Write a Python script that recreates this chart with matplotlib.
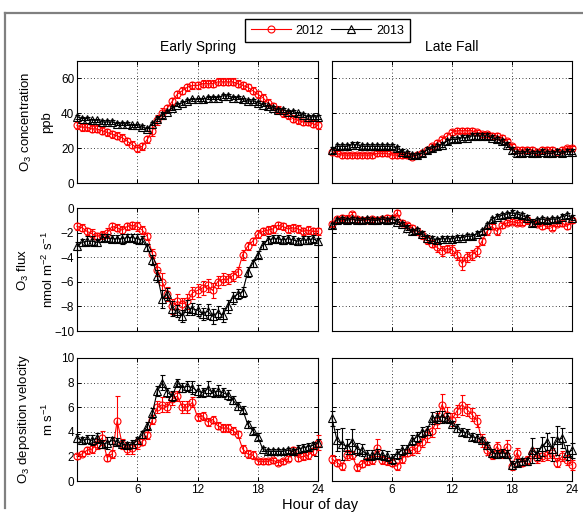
"""Diel cycles of O3 concentration, flux and deposition velocity,
Early Spring vs Late Fall, 2012 vs 2013 (half-hourly means +/- error)."""

import matplotlib
matplotlib.use("Agg")
import matplotlib.pyplot as plt
import numpy as np
from matplotlib.lines import Line2D

plt.rcParams["font.family"] = ["Liberation Sans", "DejaVu Sans"]
plt.rcParams["mathtext.fontset"] = "custom"
plt.rcParams["mathtext.rm"] = "Liberation Sans"
plt.rcParams["mathtext.it"] = "Liberation Sans"

# -- data ---------------------------------------------------------------------
HOURS = np.arange(0, 24.5, 0.5)  # half-hour bins, 0 .. 24

o3_es_2012 = [33, 32, 32, 31, 31, 30, 29, 28, 27, 26, 24, 22, 20, 21, 25, 30, 36, 40, 43, 47,
              51, 53, 55, 56, 56, 57, 57, 57, 58, 58, 58, 58, 57, 56, 55, 53, 51, 49, 46, 44,
              42, 40, 39, 37, 36, 35, 35, 34, 33]
o3_es_2013 = [38, 37, 37, 36, 36, 35, 35, 35, 34, 34, 34, 33, 33, 32, 31, 34, 37, 39, 41, 43,
              45, 46, 47, 48, 48, 48, 49, 49, 49, 50, 50, 49, 49, 48, 47, 47, 46, 45, 44, 43,
              42, 42, 41, 41, 40, 39, 38, 38, 38]
o3_lf_2012 = [18, 17, 16, 16, 16, 16, 16, 16, 16, 17, 17, 17, 16, 16, 16, 16, 15, 16, 17, 19,
              21, 23, 25, 27, 29, 30, 30, 30, 30, 29, 28, 28, 27, 27, 26, 24, 21, 19, 19, 19,
              19, 18, 19, 19, 19, 18, 19, 20, 20]
o3_lf_2013 = [19, 21, 21, 21, 22, 22, 21, 21, 21, 21, 21, 21, 21, 20, 18, 17, 16, 16, 17, 19,
              20, 21, 22, 24, 25, 25, 26, 26, 27, 27, 27, 27, 26, 25, 24, 22, 19, 17, 17, 18,
              17, 17, 18, 17, 17, 18, 17, 18, 18]
o3_es_2012_err = [2, 2, 2, 2, 2, 2, 2, 2, 2, 2, 2, 2, 2, 2, 2, 3, 3, 3, 2, 2,
                  2, 2, 2, 2, 2, 2, 2, 2, 2, 2, 2, 2, 2, 2, 2, 2, 2, 2, 2, 2,
                  2, 2, 2, 2, 2, 2, 2, 2, 2]
o3_es_2013_err = [1, 1, 1, 1, 1, 1, 1, 1, 1, 1, 1, 1, 1, 1, 1, 1, 1.5, 1.5, 1, 1,
                  1, 1, 1, 1, 1, 1, 1, 1, 1, 1, 1, 1, 1, 1, 1, 1, 1, 1, 1, 1,
                  1, 1, 1, 1, 1, 1, 1, 1, 1]
o3_lf_2012_err = [1.5, 1.5, 1.5, 1.5, 1.5, 1.5, 1.5, 1.5, 1.5, 1.5, 1.5, 1.5, 1.5, 1.5, 1.5, 1.5, 1.5, 1.5, 1.5, 1.5,
                  1.5, 1.5, 1.5, 1.5, 1.5, 1.5, 1.5, 1.5, 1.5, 1.5, 1.5, 1.5, 1.5, 1.5, 1.5, 1.5, 1.5, 1.5, 1.5, 1.5,
                  1.5, 1.5, 1.5, 1.5, 1.5, 1.5, 1.5, 1.5, 1.5]
o3_lf_2013_err = [1.5, 1.5, 1.5, 1.5, 1.5, 1.5, 1.5, 1.5, 1.5, 1.5, 1.5, 1.5, 1.5, 1.5, 1.5, 1.5, 1.5, 1.5, 1.5, 1.5,
                  1.5, 1.5, 1.5, 1.5, 1.5, 1.5, 1.5, 1.5, 1.5, 1.5, 1.5, 1.5, 1.5, 1.5, 1.5, 1.5, 1.5, 1.5, 1.5, 1.5,
                  1.5, 1.5, 1.5, 1.5, 1.5, 1.5, 1.5, 1.5, 1.5]

flux_es_2012 = [-1.5, -1.6, -1.9, -2.1, -2.3, -2.2, -2.0, -1.5, -1.6, -1.8, -1.5, -1.4, -1.5, -1.8, -2.3, -3.7,
                -5.0, -6.0, -7.0, -8.0, -7.6, -7.8, -7.6, -6.9, -6.7, -6.5, -6.3, -6.7, -6.0, -5.8, -5.8,
                -5.5, -5.2, -3.8, -3.1, -2.7, -2.1, -1.9, -1.8, -1.7, -1.4, -1.5, -1.7, -1.6, -1.7, -1.9,
                -1.8, -1.9, -1.9]
flux_es_2013 = [-3.1, -2.8, -2.7, -2.7, -2.8, -2.4, -2.4, -2.5, -2.5, -2.5, -2.4, -2.4, -2.5, -2.6, -3.2, -4.2,
                -5.5, -7.4, -7.0, -8.2, -8.4, -8.8, -8.1, -8.2, -8.3, -8.6, -8.4, -8.8, -8.5, -8.7, -8.0,
                -7.3, -7.0, -6.8, -5.2, -4.5, -3.8, -3.0, -2.6, -2.5, -2.5, -2.6, -2.5, -2.6, -2.7, -2.6,
                -2.6, -2.5, -2.7]
flux_lf_2012 = [-1.3, -0.9, -0.8, -0.9, -0.5, -0.9, -1.0, -1.0, -0.9, -1.0, -0.9, -0.8, -0.9, -0.4, -1.2, -1.4,
                -1.6, -1.9, -2.2, -2.6, -2.9, -3.2, -3.5, -3.3, -3.4, -3.8, -4.5, -4.0, -3.8, -3.5, -2.7,
                -1.9, -1.5, -1.9, -1.4, -1.2, -1.1, -1.2, -1.2, -1.0, -1.2, -1.3, -1.5, -1.2, -1.6, -1.3,
                -1.2, -1.5, -1.0]
flux_lf_2013 = [-1.4, -1.0, -0.9, -1.0, -0.9, -1.0, -1.0, -0.9, -1.0, -1.0, -0.9, -1.0, -0.9, -1.1, -1.3, -1.6,
                -1.9, -1.8, -2.1, -2.4, -2.5, -2.6, -2.5, -2.5, -2.5, -2.4, -2.4, -2.3, -2.3, -2.1, -1.9,
                -1.4, -0.9, -0.7, -0.6, -0.5, -0.4, -0.5, -0.6, -0.8, -1.2, -1.0, -0.9, -1.0, -0.9, -0.9,
                -0.7, -0.6, -0.8]
flux_es_2012_err = [0.3, 0.3, 0.3, 0.4, 0.3, 0.3, 0.4, 0.3, 0.3, 0.3, 0.3, 0.3, 0.4, 0.3, 0.3, 0.4,
                    0.5, 0.7, 0.6, 0.6, 0.6, 0.5, 0.6, 0.5, 0.5, 0.6, 0.5, 0.6, 0.5, 0.5, 0.4, 0.4,
                    0.4, 0.4, 0.3, 0.3, 0.3, 0.3, 0.3, 0.3, 0.3, 0.3, 0.3, 0.3, 0.3, 0.3, 0.3, 0.3, 0.3]
flux_es_2013_err = [0.3, 0.3, 0.4, 0.4, 0.3, 0.3, 0.3, 0.3, 0.3, 0.4, 0.3, 0.3, 0.4, 0.3, 0.3, 0.4,
                    0.5, 0.7, 0.5, 0.6, 0.5, 0.5, 0.6, 0.5, 0.5, 0.5, 0.6, 0.6, 0.5, 0.6, 0.5, 0.5,
                    0.4, 0.4, 0.4, 0.3, 0.3, 0.3, 0.3, 0.3, 0.3, 0.3, 0.3, 0.3, 0.3, 0.3, 0.3, 0.3, 0.3]
flux_lf_2012_err = [0.2, 0.2, 0.2, 0.3, 0.2, 0.2, 0.2, 0.2, 0.2, 0.2, 0.2, 0.2, 0.3, 0.2, 0.2, 0.2,
                    0.2, 0.3, 0.3, 0.3, 0.3, 0.4, 0.4, 0.3, 0.4, 0.4, 0.5, 0.4, 0.4, 0.4, 0.3, 0.3,
                    0.2, 0.3, 0.2, 0.2, 0.2, 0.2, 0.2, 0.3, 0.3, 0.2, 0.2, 0.4, 0.2, 0.2, 0.3, 0.2, 0.2]
flux_lf_2013_err = [0.2, 0.2, 0.2, 0.2, 0.2, 0.2, 0.2, 0.2, 0.2, 0.2, 0.2, 0.2, 0.2, 0.2, 0.2, 0.2,
                    0.2, 0.2, 0.2, 0.2, 0.2, 0.2, 0.2, 0.2, 0.2, 0.2, 0.2, 0.2, 0.2, 0.2, 0.2, 0.2,
                    0.2, 0.2, 0.2, 0.2, 0.2, 0.2, 0.2, 0.2, 0.3, 0.2, 0.2, 0.2, 0.2, 0.2, 0.2, 0.2, 0.2]

vd_es_2012 = [2.0, 2.2, 2.5, 2.6, 3.0, 3.5, 1.9, 2.2, 4.9, 3.0, 2.6, 2.7, 3.0, 3.2, 3.7, 5.0,
              6.0, 6.2, 6.0, 6.7, 6.9, 6.0, 6.0, 6.4, 5.2, 5.3, 4.8, 5.0, 4.5, 4.3, 4.3, 4.1,
              3.8, 2.6, 2.2, 2.1, 1.6, 1.6, 1.6, 1.7, 1.5, 1.6, 1.8, 2.5, 1.9, 2.0, 2.1, 2.4, 3.1]
vd_es_2013 = [3.5, 3.3, 3.4, 3.3, 3.5, 3.0, 3.1, 3.3, 3.2, 3.0, 2.9, 3.0, 3.3, 3.8, 4.5, 5.5,
              7.3, 8.0, 7.2, 6.9, 8.0, 7.6, 7.7, 7.6, 7.3, 7.2, 7.5, 7.2, 7.3, 7.2, 7.0, 6.6,
              6.1, 5.8, 4.6, 4.1, 3.6, 2.6, 2.4, 2.4, 2.4, 2.4, 2.5, 2.4, 2.6, 2.7, 2.8, 2.9, 3.1]
vd_lf_2012 = [1.8, 1.5, 1.2, 2.1, 2.1, 1.1, 1.4, 1.6, 1.7, 2.7, 1.7, 1.6, 1.5, 1.2, 1.8, 2.3,
              2.5, 2.7, 3.2, 3.7, 4.1, 4.9, 6.2, 5.4, 5.0, 5.7, 6.2, 5.8, 5.4, 4.9, 3.3, 2.5,
              2.1, 2.8, 2.2, 2.8, 1.2, 2.3, 1.5, 1.7, 2.3, 1.9, 2.0, 2.1, 2.3, 1.5, 2.0, 1.7, 1.3]
vd_lf_2013 = [5.1, 3.3, 3.0, 2.8, 3.2, 2.6, 2.5, 2.1, 2.1, 2.2, 2.1, 2.0, 1.8, 2.2, 2.5, 2.6,
              3.3, 3.6, 4.0, 4.1, 5.1, 5.2, 5.2, 5.1, 4.6, 4.3, 4.0, 3.9, 3.6, 3.5, 3.3, 2.9,
              2.3, 2.2, 2.3, 2.2, 1.3, 1.5, 1.6, 1.6, 2.5, 2.2, 2.8, 3.2, 2.6, 3.3, 3.5, 2.3, 2.5]
vd_es_2012_err = [0.2, 0.2, 0.3, 0.3, 0.4, 0.6, 0.3, 0.3, 2.0, 0.4, 0.4, 0.5, 0.4, 0.3, 0.3, 0.4,
                  0.5, 0.6, 0.4, 0.5, 0.4, 0.5, 0.5, 0.4, 0.3, 0.3, 0.3, 0.3, 0.3, 0.3, 0.3, 0.3,
                  0.3, 0.3, 0.3, 0.3, 0.2, 0.2, 0.2, 0.2, 0.2, 0.2, 0.2, 0.3, 0.3, 0.3, 0.3, 0.3, 0.6]
vd_es_2013_err = [0.3, 0.3, 0.3, 0.4, 0.4, 0.3, 0.5, 0.3, 0.3, 0.3, 0.3, 0.3, 0.3, 0.3, 0.3, 0.4,
                  0.4, 0.6, 0.4, 0.4, 0.3, 0.4, 0.4, 0.5, 0.5, 0.4, 0.6, 0.4, 0.5, 0.4, 0.4, 0.3,
                  0.3, 0.3, 0.3, 0.3, 0.3, 0.2, 0.2, 0.2, 0.2, 0.2, 0.2, 0.2, 0.3, 0.3, 0.3, 0.3, 0.3]
vd_lf_2012_err = [0.3, 0.3, 0.3, 0.4, 0.3, 0.3, 0.3, 0.3, 0.3, 0.7, 0.3, 0.3, 0.3, 0.3, 0.3, 0.3,
                  0.4, 0.4, 0.4, 0.5, 0.5, 0.6, 0.9, 0.6, 0.5, 0.5, 0.8, 0.5, 0.5, 0.5, 0.5, 0.4,
                  0.3, 0.4, 0.3, 0.5, 0.3, 0.4, 0.3, 0.3, 0.4, 0.4, 0.4, 0.4, 0.4, 0.4, 0.4, 0.4, 0.4]
vd_lf_2013_err = [0.6, 0.9, 1.3, 0.6, 1.0, 0.5, 0.5, 0.4, 0.4, 0.4, 0.4, 0.4, 0.4, 0.4, 0.4, 0.3,
                  0.4, 0.4, 0.4, 0.4, 0.5, 0.5, 0.5, 0.4, 0.3, 0.3, 0.3, 0.3, 0.3, 0.3, 0.3, 0.3,
                  0.3, 0.3, 0.3, 0.3, 0.3, 0.3, 0.3, 0.3, 1.0, 0.5, 0.8, 0.7, 1.0, 1.2, 0.8, 0.6, 0.6]

SEASONS = ["Early Spring", "Late Fall"]
YEARS = ["2012", "2013"]

# rows: (ylabel, ylim, yticks, {(season, year): (values, err)})
ROWS = [
    ("O$_3$ concentration\nppb", (0, 70), [0, 20, 40, 60],
     {(0, 0): (o3_es_2012, o3_es_2012_err), (0, 1): (o3_es_2013, o3_es_2013_err),
      (1, 0): (o3_lf_2012, o3_lf_2012_err), (1, 1): (o3_lf_2013, o3_lf_2013_err)}),
    ("O$_3$ flux\nnmol m$^{-2}$ s$^{-1}$", (-10, 0), [-10, -8, -6, -4, -2, 0],
     {(0, 0): (flux_es_2012, flux_es_2012_err), (0, 1): (flux_es_2013, flux_es_2013_err),
      (1, 0): (flux_lf_2012, flux_lf_2012_err), (1, 1): (flux_lf_2013, flux_lf_2013_err)}),
    ("O$_3$ deposition velocity\nm s$^{-1}$", (0, 10), [0, 2, 4, 6, 8, 10],
     {(0, 0): (vd_es_2012, vd_es_2012_err), (0, 1): (vd_es_2013, vd_es_2013_err),
      (1, 0): (vd_lf_2012, vd_lf_2012_err), (1, 1): (vd_lf_2013, vd_lf_2013_err)}),
]

STYLE = {0: dict(color="red", marker="o", ms=5.0),
         1: dict(color="black", marker="^", ms=5.5)}

W, H = 583, 515
COL_X = [(77, 318), (332, 572)]
ROW_Y = [(61, 183), (208, 331), (358, 481)]


def px_rect(x0, x1, y0, y1):
    return [x0 / W, 1 - y1 / H, (x1 - x0) / W, (y1 - y0) / H]


def main():
    fig = plt.figure(figsize=(W / 100, H / 100), dpi=100)

    # outer frame (top + left edge only visible)
    fig.add_artist(Line2D([5 / W, 5 / W], [1 - 508 / H, 1 - 13 / H], color="#808080", lw=1.6))
    fig.add_artist(Line2D([5 / W, 1.0], [1 - 13 / H, 1 - 13 / H], color="#808080", lw=1.6))

    for r, (ylabel, ylim, yticks, series) in enumerate(ROWS):
        for c in range(2):
            ax = fig.add_axes(px_rect(*COL_X[c], *ROW_Y[r]))
            for yr in range(2):
                vals, err = series[(c, yr)]
                st = STYLE[yr]
                eb = ax.errorbar(HOURS, vals, yerr=err, color=st["color"], marker=st["marker"],
                                 ms=st["ms"], mfc="none", mew=0.8, lw=0.8, elinewidth=0.8,
                                 capsize=1.8, capthick=0.8, zorder=3 + yr)
                for art in [eb[0], *eb[1], *eb[2]]:
                    art.set_clip_on(False)
            ax.set_xlim(0, 24)
            ax.set_ylim(*ylim)
            ax.set_xticks([6, 12, 18, 24])
            ax.set_yticks(yticks)
            ax.grid(True, color="black", linestyle=(0, (1, 3)), linewidth=0.6)
            ax.tick_params(direction="in", length=3, width=0.7, top=True, right=True,
                           labelsize=8.5, pad=2)
            for sp in ax.spines.values():
                sp.set_linewidth(0.8)
            if r < 2:
                ax.set_xticklabels([])
            if c == 1:
                ax.set_yticklabels([])
            else:
                ax.set_ylabel(ylabel, fontsize=9.5, linespacing=1.75, va="center")
                ax.yaxis.set_label_coords(-0.17, 0.5)
            if r == 0:
                ax.set_title(SEASONS[c], fontsize=10, pad=7)

    fig.text(320 / W, 1 - 505 / H, "Hour of day", ha="center", va="center", fontsize=10.5)

    handles = [Line2D([], [], color=STYLE[i]["color"], marker=STYLE[i]["marker"],
                      ms=STYLE[i]["ms"], mfc="none", lw=0.8, mew=0.8) for i in range(2)]
    fig.legend(handles, YEARS, loc="center", bbox_to_anchor=(327.5 / W, 1 - 30.5 / H),
               ncol=2, fontsize=9, frameon=True, fancybox=False, edgecolor="black",
               framealpha=1, handlelength=3.2, columnspacing=0.6, handletextpad=0.4,
               borderpad=0.45)

    fig.savefig("out.png", dpi=100)
    plt.close(fig)


if __name__ == "__main__":
    main()
